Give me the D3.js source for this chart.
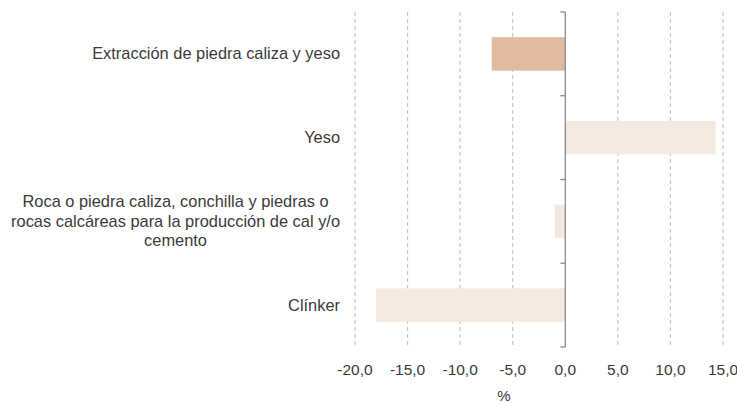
<!DOCTYPE html>
<html><head><meta charset="utf-8">
<script src="https://cdn.jsdelivr.net/npm/d3@7"></script>
<style>body{margin:0;background:#fff}text{font-family:"Liberation Sans",Arial,sans-serif}</style>
</head><body><svg id="c" width="737" height="403"></svg>
<script>
const categories = [
  ["Extracción de piedra caliza y yeso"],
  ["Yeso"],
  ["Roca o piedra caliza, conchilla y piedras o","rocas calcáreas para la producción de cal y/o","cemento"],
  ["Clínker"]
];
const values = [-7.0, 14.3, -1.0, -18.0];
const barColors = ["#e0bba0", "#f4e9de", "#f4e9de", "#f4e9de"];
const tickValues = [-20, -15, -10, -5, 0, 5, 10, 15];
const axisTitle = "%";

(function () {
const svg = d3.select("#c");
const pL = 355, pR = 723, pT = 12, pB = 347;
const x = d3.scaleLinear().domain([-20, 15]).range([pL, pR]);
const y = d3.scaleBand().domain(d3.range(categories.length)).range([pT, pB]).padding(0);
const fmt = v => d3.format(".1f")(v).replace(".", ",").replace("−", "-");

svg.append("g").selectAll("line").data(tickValues.filter(v => v !== 0)).join("line")
  .attr("x1", d => x(d)).attr("x2", d => x(d)).attr("y1", pT).attr("y2", pB)
  .attr("stroke", "#c8c8c8").attr("stroke-width", 1.2).attr("stroke-dasharray", "4,3");

svg.append("g").selectAll("rect").data(values).join("rect")
  .attr("x", d => Math.min(x(0), x(d)))
  .attr("width", d => Math.abs(x(d) - x(0)))
  .attr("y", (d, i) => y(i) + y.bandwidth() * 0.3)
  .attr("height", y.bandwidth() * 0.4)
  .attr("fill", (d, i) => barColors[i]);

const ax = svg.append("g").attr("transform", `translate(${x(0)},0)`);
ax.append("line").attr("y1", pT).attr("y2", pB).attr("stroke", "#8a8a8a").attr("stroke-width", 1.3);
const edges = d3.range(categories.length + 1).map(i => pT + i * y.step());
ax.selectAll("line.t").data(edges).join("line").attr("class", "t")
  .attr("x1", -5).attr("x2", 0).attr("y1", d => d).attr("y2", d => d)
  .attr("stroke", "#8a8a8a").attr("stroke-width", 1.3);

svg.append("g").selectAll("text").data(tickValues).join("text")
  .attr("x", d => x(d)).attr("y", 375).attr("text-anchor", "middle")
  .attr("font-size", 15.5).attr("fill", "#3a3a3a").text(d => fmt(d));

svg.append("text").attr("x", 504).attr("y", 401).attr("text-anchor", "middle")
  .attr("font-size", 15).attr("fill", "#3a3a3a").text(axisTitle);

const lh = 19.5;
categories.forEach((lines, i) => {
  const cy = y(i) + y.bandwidth() / 2;
  const g = svg.append("g");
  const ts = lines.map((l, k) => g.append("text")
    .attr("y", cy + (k - (lines.length - 1) / 2) * lh + 5.5)
    .attr("font-size", 16.4).attr("fill", "#3a3a3a").attr("text-anchor", "middle").text(l));
  const w = d3.max(ts, t => t.node().getComputedTextLength());
  ts.forEach(t => t.attr("x", 340 - w / 2));
});
})();
</script></body></html>
